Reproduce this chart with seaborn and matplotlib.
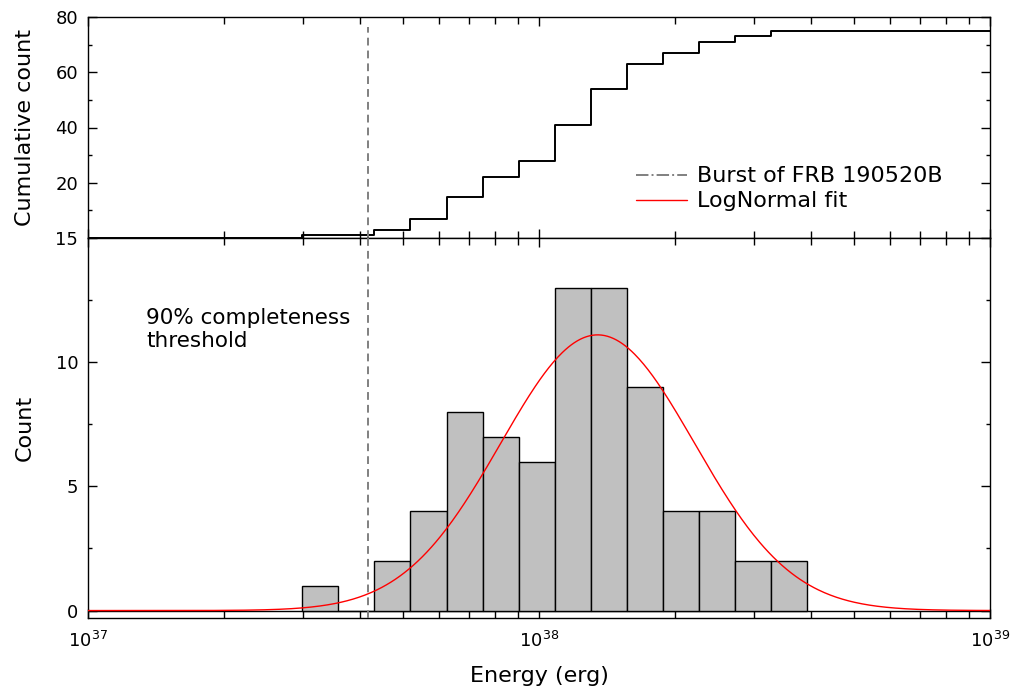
import numpy as np
import pandas as pd
import matplotlib
matplotlib.use("Agg")
import matplotlib.pyplot as plt
import seaborn as sns
from matplotlib.lines import Line2D
from matplotlib.ticker import FixedLocator, MultipleLocator, NullFormatter, LogLocator

# ---------------- data ----------------
bin_edges_log10 = [37.475, 37.555, 37.635, 37.715, 37.795, 37.875, 37.955, 38.035,
                   38.115, 38.195, 38.275, 38.355, 38.435, 38.515, 38.595]
counts = [1, 0, 2, 4, 8, 7, 6, 13, 13, 9, 4, 4, 2, 2]
threshold_energy = 4.18e37          # 90% completeness threshold (erg)
fit_mu_log10 = 38.13                # LogNormal fit centre (log10 erg)
fit_sigma_log10 = 0.215             # LogNormal fit width (dex)
fit_peak = 11.1                     # LogNormal fit peak height (counts)
x_range = (1e37, 1e39)

# ---------------- derived ----------------
edges_log = np.array(bin_edges_log10)
centers = 10 ** ((edges_log[:-1] + edges_log[1:]) / 2)
hist_df = pd.DataFrame({"energy": centers, "count": counts})

cum = np.cumsum(counts)
step_x = np.concatenate([[x_range[0]], 10 ** edges_log[:-1], [x_range[1]]])
step_y = np.concatenate([[0], cum, [cum[-1]]])
step_df = pd.DataFrame({"energy": step_x, "cum": step_y})

fit_x = np.logspace(np.log10(x_range[0]), np.log10(x_range[1]), 600)
fit_y = fit_peak * np.exp(-(np.log10(fit_x) - fit_mu_log10) ** 2 / (2 * fit_sigma_log10 ** 2))
fit_df = pd.DataFrame({"energy": fit_x, "model": fit_y})

# ---------------- style ----------------
sns.set_style("ticks")
plt.rcParams["font.family"] = ["DejaVu Sans"]
plt.rcParams["mathtext.fontset"] = "dejavusans"
for k in ("text.color", "axes.labelcolor", "xtick.color", "ytick.color", "axes.edgecolor"):
    plt.rcParams[k] = "black"

fig = plt.figure(figsize=(10.13, 6.94), dpi=100)
L, R = 88 / 1013, 990 / 1013
y_top, y_mid, y_bot = 1 - 17 / 694, 1 - 238 / 694, 1 - 618 / 694
ax_top = fig.add_axes([L, y_mid, R - L, y_top - y_mid])
ax_bot = fig.add_axes([L, y_bot, R - L, y_mid - y_bot])

# ---------------- top: cumulative ----------------
sns.lineplot(data=step_df, x="energy", y="cum", drawstyle="steps-post", color="black",
             lw=1.4, estimator=None, sort=False, ax=ax_top)
ax_top.axvline(threshold_energy, ymin=0, ymax=0.955, color="#808080", lw=1.4,
               ls=(0, (4.0, 2.6)))
ax_top.set_ylim(0, 80)
ax_top.yaxis.set_major_locator(FixedLocator([20, 40, 60, 80]))
ax_top.yaxis.set_minor_locator(FixedLocator([10, 30, 50, 70]))
ax_top.set_ylabel("Cumulative count", fontsize=16, labelpad=15)
ax_top.set_xlabel("")

handles = [Line2D([], [], color="#808080", lw=1.4, ls="-."),
           Line2D([], [], color="red", lw=1.0)]
ax_top.legend(handles, ["Burst of FRB 190520B", "LogNormal fit"], frameon=False,
              loc="center left", bbox_to_anchor=(0.595, 0.222), fontsize=16,
              handlelength=2.3, handletextpad=0.45, labelspacing=0.22, borderpad=0)

# ---------------- bottom: histogram ----------------
ax_bot.axhline(0, color="black", lw=1.0, zorder=1)
sns.histplot(data=hist_df, x="energy", weights="count", bins=len(counts),
             binrange=(edges_log[0], edges_log[-1]), log_scale=True,
             color="#c0c0c0", edgecolor="black", linewidth=1.0, alpha=1.0,
             ax=ax_bot, zorder=2)
sns.lineplot(data=fit_df, x="energy", y="model", color="red", lw=1.0, ax=ax_bot, zorder=3)
ax_bot.axvline(threshold_energy, color="#808080", lw=1.4, ls=(0, (4.0, 2.6)), zorder=4)
ax_bot.set_ylim(-0.3, 15)
ax_bot.yaxis.set_major_locator(FixedLocator([0, 5, 10, 15]))
ax_bot.yaxis.set_minor_locator(MultipleLocator(2.5))
ax_bot.set_ylabel("Count", fontsize=16, labelpad=15)
ax_bot.set_xlabel("Energy (erg)", fontsize=16, labelpad=11)
ax_bot.text(0.0643, 0.815, "90% completeness\nthreshold", transform=ax_bot.transAxes,
            fontsize=15.5, va="top", ha="left", linespacing=1.15)

for ax in (ax_top, ax_bot):
    ax.set_xscale("log")
    ax.set_xlim(*x_range)
    ax.xaxis.set_major_locator(LogLocator(base=10, numticks=5))
    ax.xaxis.set_minor_locator(LogLocator(base=10, subs=np.arange(2, 10), numticks=20))
    ax.xaxis.set_minor_formatter(NullFormatter())
    ax.tick_params(which="both", direction="in", top=True, right=True, color="black",
                   width=1.0, labelsize=13, pad=7)
    ax.tick_params(axis="x", which="major", length=6.5)
    ax.tick_params(axis="x", which="minor", length=5)
    ax.tick_params(axis="y", which="major", length=6.5)
    ax.tick_params(axis="y", which="minor", length=3)
    for sp in ax.spines.values():
        sp.set_color("black")
        sp.set_linewidth(1.0)

ax_top.tick_params(labelbottom=False)
ax_bot.tick_params(axis="x", pad=9)

fig.savefig("out.png", dpi=100)
